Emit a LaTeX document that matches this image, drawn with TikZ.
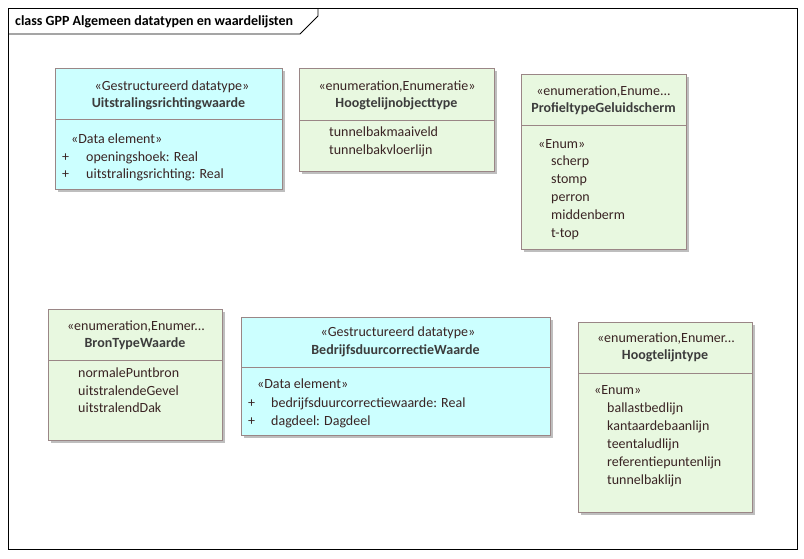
\documentclass[tikz,border=0pt]{standalone}
\usepackage{fontspec}
\setmainfont{Carlito}
\usetikzlibrary{shadows}
\definecolor{cyanfill}{HTML}{CCFFFF}
\definecolor{greenfill}{HTML}{E8F8E0}
\definecolor{bordercol}{HTML}{9A8686}
\definecolor{shadowcol}{HTML}{BEBEBE}
\definecolor{txtcol}{HTML}{3A2424}
\definecolor{namecol}{HTML}{3C3C3C}
\begin{document}
\begin{tikzpicture}[x=1pt,y=-1pt,
  umlbox/.style={draw=bordercol, line width=0.9pt, inner sep=0, outer sep=0,
    anchor=north west, general shadow={fill=shadowcol, shadow xshift=3pt, shadow yshift=-3pt}},
  dt/.style={umlbox, fill=cyanfill},
  en/.style={umlbox, fill=greenfill},
  divl/.style={draw=bordercol, line width=0.9pt},
  txt/.style={anchor=mid west, inner sep=0, yshift=-2pt, text=txtcol, font=\fontsize{14}{16}\selectfont},
  ster/.style={anchor=mid, inner sep=0, yshift=-2pt, text=txtcol, font=\fontsize{14}{16}\selectfont},
  nm/.style={anchor=mid, inner sep=0, yshift=-2pt, text=namecol, font=\bfseries\fontsize{14}{16}\selectfont},
  framel/.style={draw=black, line width=0.9pt}
]
\useasboundingbox[fill=white] (0,0) rectangle (804,558);
% frame
\node[framel, anchor=north west, minimum width=789pt, minimum height=541pt, inner sep=0, outer sep=0] (frame) at (8,8) {};
\coordinate (tabA) at (8,34);
\coordinate (tabB) at (300,34);
\coordinate (tabC) at (318,16);
\coordinate (tabD) at (318,8);
\draw[framel] (tabA) -- (tabB) -- (tabC) -- (tabD);
\node[anchor=mid west, inner sep=0, yshift=-2pt, font=\bfseries\fontsize{14}{16}\selectfont] (title) at (15,21) {class GPP Algemeen datatypen en waardelijsten};

% Box 1: Uitstralingsrichtingwaarde
\node[dt, minimum width=227pt, minimum height=121pt] (b1) at (55,68) {};
\draw[divl] (b1.west |- 0,119) -- (b1.east |- 0,119);
\node[ster] (b1s) at (172,86) {«Gestructureerd datatype»};
\node[nm] (b1n) at (168.5,103) {Uitstralingsrichtingwaarde};
\node[txt] (b1e) at (71,139) {«Data element»};
\node[txt] (b1p1) at (62,157) {+};
\node[txt] (b1a1) at (86,157) {openingshoek: Real};
\node[txt] (b1p2) at (62,174) {+};
\node[txt] (b1a2) at (86,174) {uitstralingsrichting: Real};

% Box 2: Hoogtelijnobjecttype
\node[en, minimum width=195pt, minimum height=103pt] (b2) at (299,68) {};
\draw[divl] (b2.west |- 0,120) -- (b2.east |- 0,120);
\node[ster] (b2s) at (397,86) {«enumeration,Enumeratie»};
\node[nm] (b2n) at (396.5,103) {Hoogtelijnobjecttype};
\node[txt] (b2i1) at (329,132) {tunnelbakmaaiveld};
\node[txt] (b2i2) at (329,150) {tunnelbakvloerlijn};

% Box 3: ProfieltypeGeluidscherm
\node[en, minimum width=165pt, minimum height=175pt] (b3) at (521,74) {};
\draw[divl] (b3.west |- 0,125) -- (b3.east |- 0,125);
\node[ster] (b3s) at (603.5,91) {«enumeration,Enume...};
\node[nm] (b3n) at (603.5,108) {ProfieltypeGeluidscherm};
\node[txt] (b3e) at (538,144) {«Enum»};
\node[txt] (b3i1) at (551,161) {scherp};
\node[txt] (b3i2) at (551,179) {stomp};
\node[txt] (b3i3) at (551,197) {perron};
\node[txt] (b3i4) at (551,215) {middenberm};
\node[txt] (b3i5) at (551,233) {t-top};

% Box 4: BronTypeWaarde
\node[en, minimum width=174pt, minimum height=131pt] (b4) at (48,309) {};
\draw[divl] (b4.west |- 0,360) -- (b4.east |- 0,360);
\node[ster] (b4s) at (136,326) {«enumeration,Enumer...};
\node[nm] (b4n) at (135,343) {BronTypeWaarde};
\node[txt] (b4i1) at (78,373) {normalePuntbron};
\node[txt] (b4i2) at (78,391) {uitstralendeGevel};
\node[txt] (b4i3) at (78,408) {uitstralendDak};

% Box 5: BedrijfsduurcorrectieWaarde
\node[dt, minimum width=309pt, minimum height=118pt] (b5) at (241,317) {};
\draw[divl] (b5.west |- 0,367) -- (b5.east |- 0,367);
\node[ster] (b5s) at (398,332) {«Gestructureerd datatype»};
\node[nm] (b5n) at (395.5,350) {BedrijfsduurcorrectieWaarde};
\node[txt] (b5e) at (257,384) {«Data element»};
\node[txt] (b5p1) at (248,403) {+};
\node[txt] (b5a1) at (271,403) {bedrijfsduurcorrectiewaarde: Real};
\node[txt] (b5p2) at (248,421) {+};
\node[txt] (b5a2) at (271,421) {dagdeel: Dagdeel};

% Box 6: Hoogtelijntype
\node[en, minimum width=174pt, minimum height=190pt] (b6) at (578,322) {};
\draw[divl] (b6.west |- 0,373) -- (b6.east |- 0,373);
\node[ster] (b6s) at (666,338) {«enumeration,Enumer...};
\node[nm] (b6n) at (665,355) {Hoogtelijntype};
\node[txt] (b6e) at (594,390) {«Enum»};
\node[txt] (b6i1) at (607,408) {ballastbedlijn};
\node[txt] (b6i2) at (607,426) {kantaardebaanlijn};
\node[txt] (b6i3) at (607,444) {teentaludlijn};
\node[txt] (b6i4) at (607,462) {referentiepuntenlijn};
\node[txt] (b6i5) at (607,480) {tunnelbaklijn};
\end{tikzpicture}
\end{document}
